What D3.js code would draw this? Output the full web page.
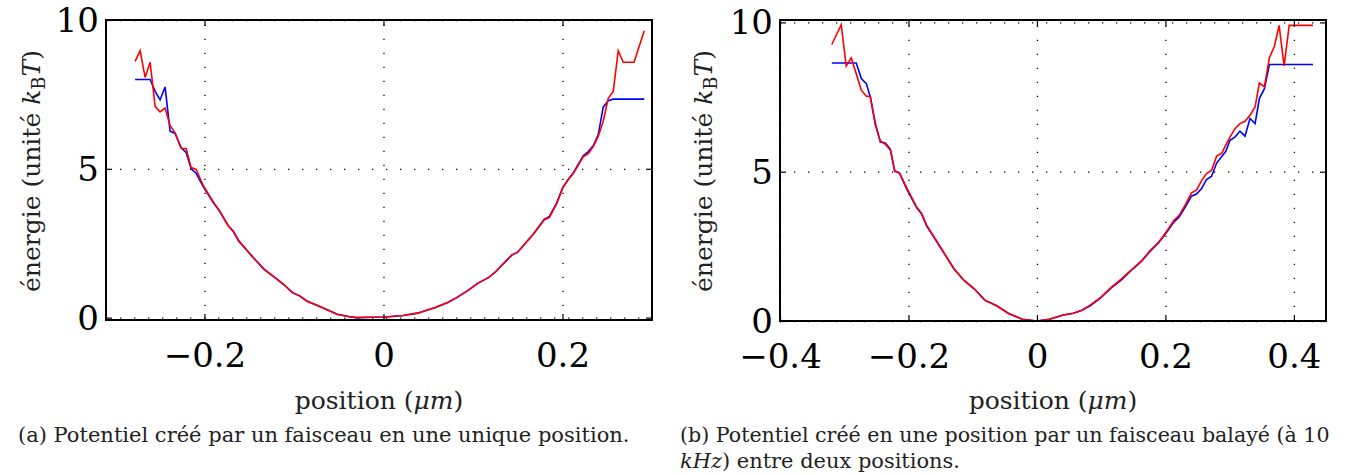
<!DOCTYPE html>
<html>
<head>
<meta charset="utf-8">
<script src="https://cdn.jsdelivr.net/npm/d3@7"></script>
<style>
  body { margin: 0; background: #fff; }
  text { font-family: "DejaVu Serif", "Liberation Serif", serif; }
</style>
</head>
<body>
<svg id="chart" width="1345" height="475"></svg>
<script>
// (a) single beam position
const posA = [-0.2775, -0.2719, -0.2663, -0.2607, -0.2551, -0.2496, -0.2440, -0.2384, -0.2328, -0.2261,
  -0.2205, -0.2149, -0.2093, -0.2014, -0.1900, -0.1835, -0.1735, -0.1680, -0.1615, -0.1536,
  -0.1456, -0.1336, -0.1216, -0.1117, -0.1017, -0.0937, -0.0857, -0.0698, -0.0518, -0.0379,
  -0.0300, -0.0140, 0.0020, 0.0220, 0.0380, 0.0580, 0.0718, 0.0818, 0.0937, 0.1057,
  0.1177, 0.1256, 0.1336, 0.1436, 0.1496, 0.1595, 0.1675, 0.1795, 0.1854, 0.1934,
  0.2002, 0.2064, 0.2120, 0.2232, 0.2288, 0.2343, 0.2399, 0.2455, 0.2511, 0.2567,
  0.2623, 0.2679, 0.2799, 0.2914];
const redA = [8.61, 8.97, 8.07, 8.58, 7.10, 6.91, 7.04, 6.45, 6.21, 5.69,
  5.68, 5.04, 4.98, 4.44, 3.88, 3.60, 3.09, 2.92, 2.58, 2.30,
  2.02, 1.63, 1.35, 1.12, 0.84, 0.73, 0.56, 0.36, 0.11, 0.03,
  0.00, 0.01, 0.02, 0.07, 0.15, 0.34, 0.51, 0.67, 0.90, 1.16,
  1.35, 1.55, 1.80, 2.11, 2.19, 2.53, 2.81, 3.28, 3.37, 3.82,
  4.36, 4.64, 4.84, 5.40, 5.51, 5.75, 6.09, 6.60, 7.37, 7.60,
  8.97, 8.58, 8.58, 9.64];
const blueA = [8.00, 8.00, 8.00, 8.00, 7.60, 7.32, 7.75, 6.26, 6.19, 5.71,
  5.55, 5.00, 4.85, 4.40, 3.86, 3.60, 3.09, 2.90, 2.56, 2.30,
  2.02, 1.63, 1.35, 1.12, 0.84, 0.73, 0.56, 0.36, 0.11, 0.03,
  0.00, 0.01, 0.02, 0.07, 0.15, 0.34, 0.51, 0.67, 0.90, 1.16,
  1.35, 1.55, 1.80, 2.11, 2.19, 2.53, 2.81, 3.30, 3.40, 3.85,
  4.36, 4.64, 4.86, 5.44, 5.58, 5.77, 6.14, 7.07, 7.29, 7.34,
  7.34, 7.34, 7.34, 7.34];

// (b) swept beam (10 kHz) between two positions
const posB = [-0.3194, -0.3047, -0.2969, -0.2891, -0.2813, -0.2734, -0.2656, -0.2594, -0.2516, -0.2438,
  -0.2359, -0.2281, -0.2214, -0.2141, -0.2023, -0.1954, -0.1874, -0.1795, -0.1715, -0.1503,
  -0.1290, -0.1131, -0.0972, -0.0812, -0.0627, -0.0441, -0.0228, 0.0000, 0.0196, 0.0409,
  0.0568, 0.0701, 0.0834, 0.0993, 0.1152, 0.1311, 0.1471, 0.1630, 0.1763, 0.1895,
  0.2028, 0.2134, 0.2214, 0.2320, 0.2406, 0.2484, 0.2563, 0.2641, 0.2719, 0.2797,
  0.2875, 0.2942, 0.3005, 0.3083, 0.3161, 0.3239, 0.3317, 0.3396, 0.3463, 0.3541,
  0.3619, 0.3697, 0.3770, 0.3848, 0.3927, 0.4297];
const redB = [9.26, 9.92, 8.54, 8.81, 8.28, 7.73, 7.53, 7.52, 6.56, 6.03,
  5.92, 5.72, 5.02, 4.96, 4.44, 4.16, 3.82, 3.60, 3.20, 2.47,
  1.74, 1.35, 1.07, 0.70, 0.51, 0.25, 0.06, 0.00, 0.06, 0.20,
  0.26, 0.36, 0.54, 0.79, 1.12, 1.40, 1.71, 2.02, 2.36, 2.64,
  3.03, 3.37, 3.54, 3.93, 4.29, 4.38, 4.70, 4.94, 5.05, 5.52,
  5.61, 5.90, 6.16, 6.44, 6.61, 6.69, 6.89, 7.17, 7.97, 7.84,
  8.82, 9.20, 9.90, 8.54, 9.90, 9.90];
const blueB = [8.64, 8.64, 8.64, 8.64, 8.64, 8.12, 7.95, 7.50, 6.62, 5.99,
  5.96, 5.75, 5.02, 4.96, 4.40, 4.12, 3.80, 3.58, 3.18, 2.47,
  1.74, 1.35, 1.07, 0.70, 0.51, 0.25, 0.06, 0.00, 0.06, 0.20,
  0.26, 0.36, 0.52, 0.77, 1.10, 1.37, 1.70, 2.00, 2.34, 2.62,
  3.00, 3.32, 3.48, 3.86, 4.18, 4.25, 4.44, 4.74, 4.85, 5.29,
  5.50, 5.69, 6.05, 6.16, 6.36, 6.19, 6.78, 6.61, 7.45, 7.78,
  8.59, 8.59, 8.59, 8.59, 8.59, 8.59];

const yTicks = [0, 5, 10];
const xTicksA = [-0.2, 0, 0.2];
const xTicksB = [-0.4, -0.2, 0, 0.2, 0.4];
const captionA = ['(a) Potentiel créé par un faisceau en une unique position.'];
const captionB = ['(b) Potentiel créé en une position par un faisceau balayé (à 10', 'kHz) entre deux positions.'];

const FONT = '"DejaVu Serif", "Liberation Serif", serif';
const svg = d3.select('#chart');

const fmtX = d => d === 0 ? '0' : d3.format('.1f')(d);

// scale a text's font size so it spans the wanted width
const fitWidth = (sel, target, maxSize) => {
  const fs = parseFloat(sel.style('font-size'));
  const w = sel.node().getComputedTextLength();
  sel.style('font-size', Math.min(maxSize, fs * target / w).toFixed(2) + 'px');
};

function drawPanel(p) {
  const width = p.right - p.left;
  const height = p.bottom - p.top;
  const x = d3.scaleLinear().domain(p.xDomain).range([0, width]);
  const y = d3.scaleLinear().domain(p.yDomain).range([height, 0]);

  const g = svg.append('g').attr('transform', `translate(${p.left}, ${p.top})`);

  // dotted grid
  const grid = g.append('g').attr('class', 'grid');
  grid.append('g')
    .attr('transform', `translate(0, ${height})`)
    .call(d3.axisBottom(x).tickValues(p.xTicks).tickSize(-height).tickFormat(''));
  grid.append('g')
    .call(d3.axisLeft(y).tickValues(yTicks).tickSize(-width).tickFormat(''));
  grid.selectAll('.domain').remove();
  grid.selectAll('line')
    .attr('stroke', '#000')
    .attr('stroke-width', 1.3)
    .attr('stroke-dasharray', '1.3,12.7');

  // curves: blue first, red on top
  const line = d3.line().x(d => x(d[0])).y(d => y(d[1]));
  g.append('path')
    .datum(p.pos.map((v, i) => [v, p.blue[i]]))
    .attr('fill', 'none').attr('stroke', '#0000ff').attr('stroke-width', 1.6)
    .attr('d', line);
  g.append('path')
    .datum(p.pos.map((v, i) => [v, p.red[i]]))
    .attr('fill', 'none').attr('stroke', '#ff0000').attr('stroke-width', 1.6)
    .attr('d', line);

  // inward ticks on all four sides
  const tickLen = 6;
  const bottomAx = g.append('g')
    .attr('transform', `translate(0, ${height})`)
    .call(d3.axisBottom(x).tickValues(p.xTicks).tickSize(-tickLen).tickPadding(23).tickFormat(fmtX));
  const topAx = g.append('g')
    .call(d3.axisTop(x).tickValues(p.xTicks).tickSize(-tickLen).tickFormat(''));
  const leftAx = g.append('g')
    .call(d3.axisLeft(y).tickValues(yTicks).tickSize(-tickLen).tickPadding(7).tickFormat(d3.format('d')));
  const rightAx = g.append('g')
    .attr('transform', `translate(${width}, 0)`)
    .call(d3.axisRight(y).tickValues(yTicks).tickSize(-tickLen).tickFormat(''));
  [bottomAx, topAx, leftAx, rightAx].forEach(a => {
    a.attr('font-family', FONT);
    a.select('.domain').remove();
    a.selectAll('line').attr('stroke', '#000').attr('stroke-width', 1.2);
  });
  bottomAx.selectAll('text')
    .attr('fill', '#000').style('font-size', '34px').attr('dy', '0.71em');
  leftAx.selectAll('text')
    .attr('fill', '#000').style('font-size', '34px').attr('dy', '0.34em');

  // box
  g.append('rect')
    .attr('width', width).attr('height', height)
    .attr('fill', 'none').attr('stroke', '#000').attr('stroke-width', 2);

  // y label
  const yl = g.append('text')
    .attr('transform', 'rotate(-90)')
    .attr('x', -(171 - p.top))
    .attr('y', p.ylabelX - p.left)
    .style('text-anchor', 'middle')
    .style('font-size', '24px')
    .attr('fill', '#222');
  yl.append('tspan').text('énergie (unité ');
  yl.append('tspan').style('font-style', 'italic').text('k');
  yl.append('tspan').attr('dy', 5).attr('font-size', '0.72em').text('B');
  yl.append('tspan').attr('dy', -5).style('font-style', 'italic').text('T');
  yl.append('tspan').text(')');
  fitWidth(yl, 243, 25);

  // x label
  const xl = g.append('text')
    .attr('x', width / 2)
    .attr('y', 409 - p.top)
    .style('text-anchor', 'middle')
    .style('font-size', '24px')
    .attr('fill', '#222');
  xl.append('tspan').text('position (');
  xl.append('tspan').style('font-style', 'italic').text('μm');
  xl.append('tspan').text(')');
  fitWidth(xl, 176, 25);

  // caption
  p.caption.forEach((c, i) => {
    const t = svg.append('text')
      .attr('x', p.captionX)
      .attr('y', 442 + i * 26)
      .style('font-size', '20px')
      .attr('fill', '#222');
    if (c.startsWith('kHz')) {
      t.append('tspan').style('font-style', 'italic').text('kHz');
      t.append('tspan').text(c.slice(3));
    } else {
      t.text(c);
    }
    fitWidth(t, p.captionW[i], 21);
  });
}

drawPanel({
  left: 106, right: 652, top: 20, bottom: 320,
  xDomain: [-0.31, 0.30], yDomain: [-0.08, 10],
  xTicks: xTicksA, pos: posA, red: redA, blue: blueA,
  ylabelX: 40, caption: captionA, captionX: 18, captionW: [620]
});

drawPanel({
  left: 780, right: 1326, top: 20, bottom: 321,
  xDomain: [-0.40, 0.45], yDomain: [0, 10.08],
  xTicks: xTicksB, pos: posB, red: redB, blue: blueB,
  ylabelX: 712, caption: captionB, captionX: 680, captionW: [650, 280]
});
</script>
</body>
</html>
